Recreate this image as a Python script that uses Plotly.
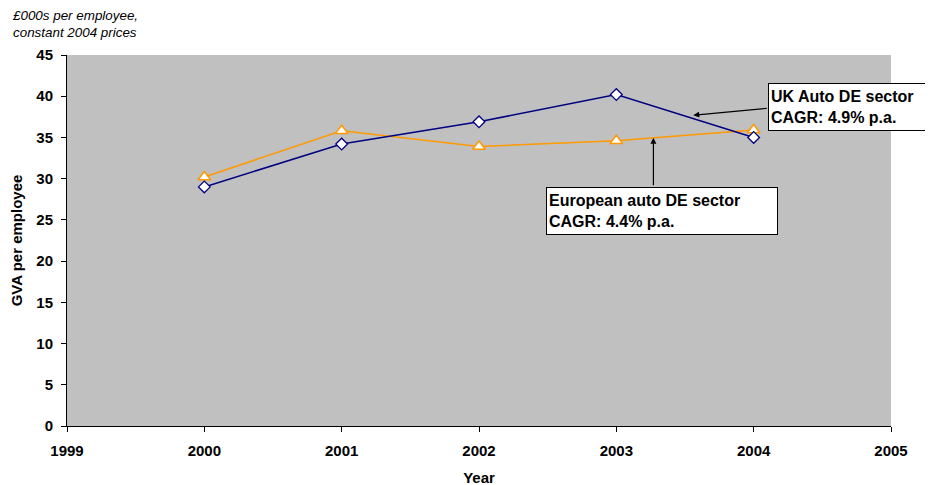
import plotly.graph_objects as go

years = [2000, 2001, 2002, 2003, 2004]
uk_gva = [29.0, 34.2, 36.9, 40.2, 35.0]
eu_gva = [30.2, 35.8, 33.9, 34.6, 35.9]
x_ticks = [1999, 2000, 2001, 2002, 2003, 2004, 2005]
y_ticks = [0, 5, 10, 15, 20, 25, 30, 35, 40, 45]

FONT = "Liberation Sans, Arial, sans-serif"
PW, PH = 824, 371  # plot area size in px

fig = go.Figure()
fig.add_trace(go.Scatter(
    x=years, y=eu_gva, mode="lines+markers", name="European auto DE sector",
    line=dict(color="#FF9900", width=1.5),
    marker=dict(symbol="triangle-up", size=11, color="white",
                line=dict(color="#FF9900", width=1.5)),
))
fig.add_trace(go.Scatter(
    x=years, y=uk_gva, mode="lines+markers", name="UK Auto DE sector",
    line=dict(color="#000080", width=1.5),
    marker=dict(symbol="diamond", size=9, color="white",
                line=dict(color="#000080", width=1.3)),
))

annotations = [
    # arrows
    dict(x=2003.56, y=37.7, xref="x", yref="y", ax=75, ay=-7, axref="pixel", ayref="pixel",
         text="", showarrow=True, arrowhead=2, arrowsize=1, arrowwidth=1.2, arrowcolor="black"),
    dict(x=2003.27, y=34.95, xref="x", yref="y", ax=0, ay=49, axref="pixel", ayref="pixel",
         text="", showarrow=True, arrowhead=2, arrowsize=1, arrowwidth=1.2, arrowcolor="black"),
    # boxes
    dict(x=(768 - 67) / PW, y=(426 - 83) / PH, xref="paper", yref="paper",
         xanchor="left", yanchor="top",
         text="<b>UK Auto DE sector<br>CAGR: 4.9% p.a.</b>", showarrow=False, align="left",
         font=dict(family=FONT, size=16, color="black"), bgcolor="white",
         bordercolor="black", borderwidth=1, borderpad=2, width=172, height=42),
    dict(x=(546 - 67) / PW, y=(426 - 187) / PH, xref="paper", yref="paper",
         xanchor="left", yanchor="top",
         text="<b>European auto DE sector<br>CAGR: 4.4% p.a.</b>", showarrow=False, align="left",
         font=dict(family=FONT, size=16, color="black"), bgcolor="white",
         bordercolor="black", borderwidth=1, borderpad=2, width=226, height=42),
    # units note
    dict(x=(10 - 67) / PW, y=(426 - 6) / PH, xref="paper", yref="paper",
         xanchor="left", yanchor="top",
         text="<i>£000s per employee,<br>constant 2004 prices</i>",
         showarrow=False, align="left", font=dict(family=FONT, size=13.4, color="black")),
]

fig.update_layout(
    width=933, height=485,
    margin=dict(l=59, r=50, t=47, b=67),
    paper_bgcolor="white", plot_bgcolor="#C0C0C0",
    showlegend=False,
    font=dict(family=FONT, color="black"),
    annotations=annotations,
    xaxis=dict(range=[1999, 2005], tickvals=x_ticks, showgrid=False, zeroline=False,
               showline=True, linecolor="black", linewidth=1, ticks="outside", ticklen=5,
               tickcolor="black", ticklabelstandoff=6, automargin=False,
               tickfont=dict(family=FONT, size=15, color="black", weight="bold"),
               title=dict(text="<b>Year</b>", font=dict(family=FONT, size=15), standoff=14)),
    yaxis=dict(range=[0, 45], tickvals=y_ticks, showgrid=False, zeroline=False,
               showline=True, linecolor="black", linewidth=1, ticks="outside", ticklen=5,
               tickcolor="black", ticklabelstandoff=5, automargin=False,
               tickfont=dict(family=FONT, size=15, color="black", weight="bold"),
               title=dict(text="<b>GVA per employee</b>", font=dict(family=FONT, size=15), standoff=10)),
)

fig.write_html("out.html")
